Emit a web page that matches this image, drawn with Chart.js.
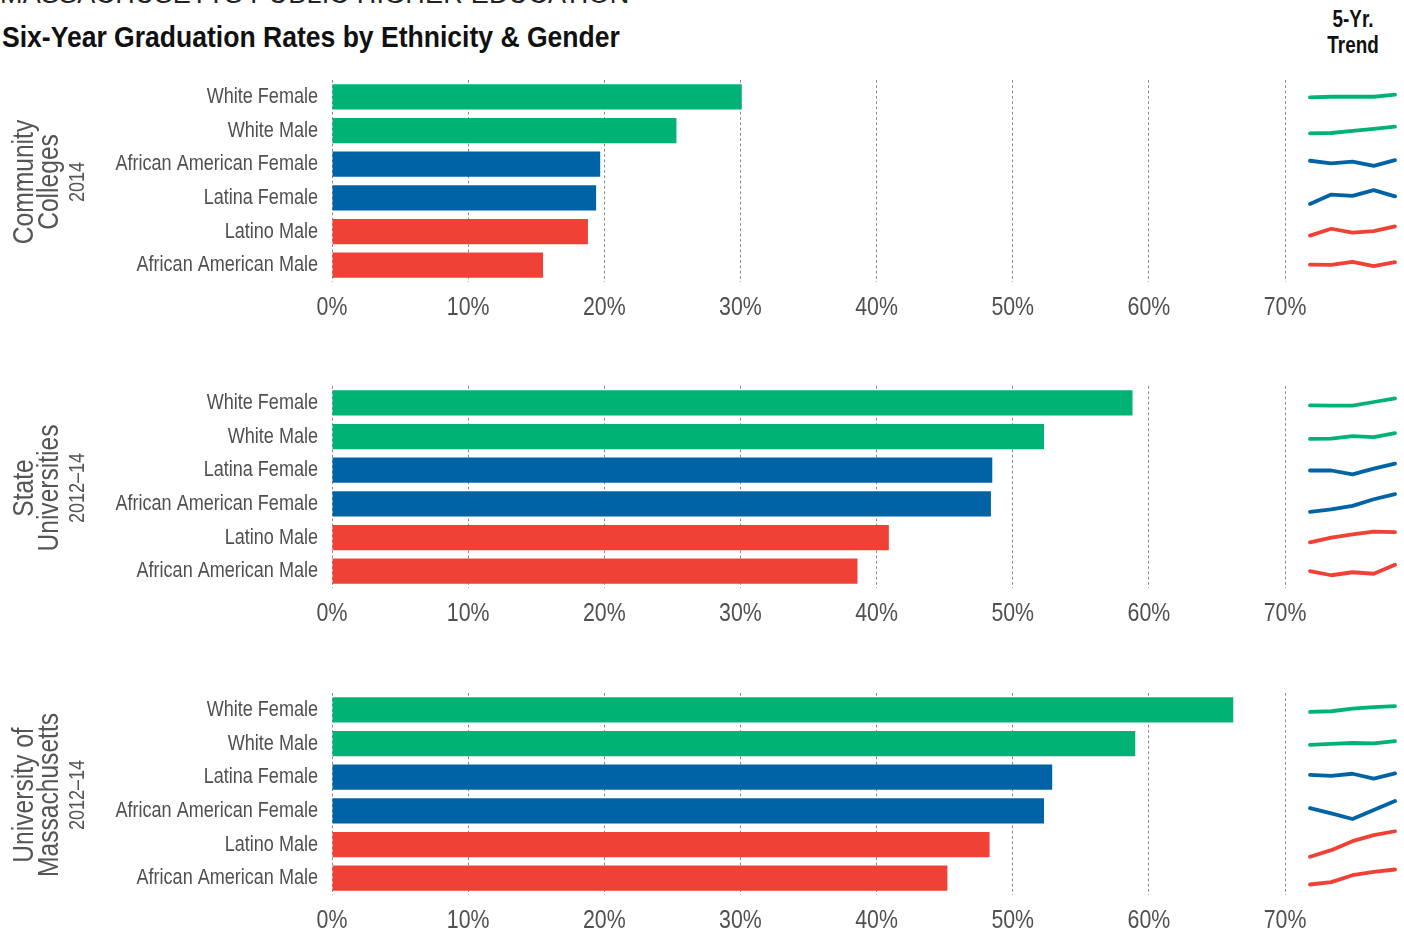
<!DOCTYPE html>
<html>
<head>
<meta charset="utf-8">
<script src="https://cdn.jsdelivr.net/npm/chart.js@4.4.1/dist/chart.umd.min.js"></script>
<style>
    body { margin: 0; background: #fff; }
    #page {
        position: relative;
        width: 1404px;
        height: 941px;
        overflow: hidden;
        font-family: 'Liberation Sans', Arial, sans-serif;
    }
    #page canvas { position: absolute; }
    .kicker {
        position: absolute; left: 0; top: -19px;
        font-size: 27px; line-height: 27px; letter-spacing: 0.2px; color: #222;
        white-space: nowrap;
    }
    .title {
        position: absolute; left: 2px; top: 23px;
        font-size: 29px; line-height: 29px; font-weight: bold; color: #111;
        white-space: nowrap;
        transform: scaleX(0.915); transform-origin: 0 0;
    }
    .trend {
        position: absolute; left: 1303px; top: 6px; width: 100px;
        font-size: 23px; line-height: 26px; font-weight: bold; color: #111;
        text-align: center;
        transform: scaleX(0.82);
    }
    .side {
        position: absolute; white-space: nowrap; line-height: 1; color: #555;
        transform: translate(-50%, -50%) rotate(-90deg) scaleX(0.82);
    }
</style>
</head>
<body>
<div id="page">
    <div class="kicker">MASSACHUSETTS PUBLIC HIGHER EDUCATION</div>
    <div class="title">Six-Year Graduation Rates by Ethnicity &amp; Gender</div>
    <div class="trend">5-Yr.<br>Trend</div>
</div>
<script>
const years = ['2010', '2011', '2012', '2013', '2014']
const groups = ['white', 'white', 'female', 'female', 'male', 'male']

const sectorNames = [['Community', 'Colleges'], ['State', 'Universities'], ['University of', 'Massachusetts']]
const sectorYears = ['2014', '2012–14', '2012–14']

const ccLabels = ['White Female', 'White Male', 'African American Female', 'Latina Female', 'Latino Male', 'African American Male']
const ccRates = [30.1, 25.3, 19.7, 19.4, 18.8, 15.5]
const ccTrend = [
    [29.2, 29.4, 29.4, 29.4, 30.1],
    [23.1, 23.2, 23.9, 24.6, 25.3],
    [19.5, 18.6, 19.2, 17.8, 19.7],
    [16.9, 20.0, 19.6, 21.5, 19.4],
    [15.7, 18.0, 16.7, 17.2, 18.8],
    [14.7, 14.6, 15.6, 14.2, 15.5],
]

const suLabels = ['White Female', 'White Male', 'Latina Female', 'African American Female', 'Latino Male', 'African American Male']
const suRates = [58.8, 52.3, 48.5, 48.4, 40.9, 38.6]
const suTrend = [
    [56.5, 56.4, 56.4, 57.6, 58.8],
    [50.4, 50.5, 51.3, 51.0, 52.3],
    [46.2, 46.2, 44.9, 46.8, 48.5],
    [42.5, 43.3, 44.5, 46.7, 48.4],
    [37.5, 39.1, 40.2, 41.1, 40.9],
    [36.5, 35.1, 36.1, 35.6, 38.6],
]

const umLabels = ['White Female', 'White Male', 'Latina Female', 'African American Female', 'Latino Male', 'African American Male']
const umRates = [66.2, 59.0, 52.9, 52.3, 48.3, 45.2]
const umTrend = [
    [64.3, 64.5, 65.4, 65.9, 66.2],
    [57.8, 58.1, 58.4, 58.3, 59.0],
    [52.4, 52.1, 52.8, 51.2, 52.9],
    [49.9, 48.2, 46.3, 49.3, 52.3],
    [39.8, 42.0, 45.0, 47.0, 48.3],
    [40.2, 41.0, 43.3, 44.4, 45.2],
]

const colors = { white: '#00b274', female: '#0063a6', male: '#ef4136' }
const fontFamily = "'Liberation Sans', Arial, sans-serif"
const narrow = 0.82
const page = document.getElementById('page')

const panelTops = [0, 306, 613]
const plotTop = 80
const plotHeight = 202

// no condensed face is installed, so tick labels are squeezed by hand
function narrowText(ctx, text, x, y) {
    ctx.save()
    ctx.translate(x, y)
    ctx.scale(narrow, 1)
    ctx.fillText(text, 0, 0)
    ctx.restore()
}

const narrowLabels = {
    id: 'narrowLabels',
    afterDraw(chart) {
        const { ctx, scales: { x, y } } = chart

        ctx.save()
        ctx.fillStyle = '#505050'
        ctx.textBaseline = 'middle'

        ctx.font = `22px ${fontFamily}`
        ctx.textAlign = 'right'
        y.ticks.forEach((tick, i) => {
            narrowText(ctx, chart.data.labels[tick.value], y.right - 14, y.getPixelForTick(i))
        })

        ctx.font = `26px ${fontFamily}`
        ctx.textAlign = 'center'
        x.ticks.forEach((tick, i) => {
            narrowText(ctx, tick.value + '%', x.getPixelForTick(i), x.top + 26)
        })

        ctx.restore()
    }
}

function addCanvas(left, top, width, height) {
    const canvas = document.createElement('canvas')
    canvas.width = width
    canvas.height = height
    canvas.style.left = left + 'px'
    canvas.style.top = top + 'px'
    canvas.style.width = width + 'px'
    canvas.style.height = height + 'px'
    page.appendChild(canvas)
    return canvas
}

function addSide(text, x, y, size) {
    const div = document.createElement('div')
    div.className = 'side'
    div.textContent = text
    div.style.left = x + 'px'
    div.style.top = y + 'px'
    div.style.fontSize = size + 'px'
    page.appendChild(div)
}

function sparkline(top, trend, color) {
    const canvas = addCanvas(1300, top, 104, 34)
    const lo = Math.min(...trend)
    const hi = Math.max(...trend)
    const mid = (lo + hi) / 2
    const half = 34 / 3 / 2

    new Chart(canvas, {
        type: 'line',
        data: {
            labels: years,
            datasets: [{
                data: trend,
                borderColor: color,
                borderWidth: 3.8,
                pointRadius: 0,
                tension: 0,
                borderCapStyle: 'round',
                borderJoinStyle: 'round',
            }],
        },
        options: {
            responsive: false,
            animation: false,
            events: [],
            layout: { padding: { left: 10, right: 9, top: 0, bottom: 0 } },
            plugins: { legend: false, tooltip: false },
            scales: {
                x: { display: false },
                y: { display: false, min: mid - half, max: mid + half },
            },
        },
    })
}

function panel(index, labels, rates, trends) {
    const top = panelTops[index]
    const canvas = addCanvas(0, top, 1404, 322)

    new Chart(canvas, {
        type: 'bar',
        data: {
            labels,
            datasets: [{
                data: rates,
                backgroundColor: groups.map(g => colors[g]),
                categoryPercentage: 1,
                barPercentage: 0.75,
            }],
        },
        options: {
            indexAxis: 'y',
            responsive: false,
            animation: false,
            events: [],
            layout: { padding: { top: plotTop, right: 119, left: 0, bottom: 0 } },
            plugins: { legend: false, tooltip: false },
            scales: {
                x: {
                    min: 0,
                    max: 70,
                    afterFit: scale => { scale.height = 40 },
                    ticks: { stepSize: 10, display: false },
                    grid: { color: '#888', lineWidth: 1, drawTicks: false },
                    border: { display: false, dash: [2.7, 2.6] },
                },
                y: {
                    afterFit: scale => { scale.width = 332 },
                    ticks: { display: false },
                    grid: { display: false },
                    border: { display: false },
                },
            },
        },
        plugins: [narrowLabels],
    })

    const rowHeight = plotHeight / labels.length
    trends.forEach((trend, i) => {
        const center = top + plotTop + (i + 0.5) * rowHeight
        sparkline(Math.round(center - 18), trend, colors[groups[i]])
    })

    const cy = top + plotTop + plotHeight / 2 + 1
    addSide(sectorNames[index][0], 23, cy, 30)
    addSide(sectorNames[index][1], 48, cy, 30)
    addSide(sectorYears[index], 77, cy, 22)
}

panel(0, ccLabels, ccRates, ccTrend)
panel(1, suLabels, suRates, suTrend)
panel(2, umLabels, umRates, umTrend)
</script>
</body>
</html>
